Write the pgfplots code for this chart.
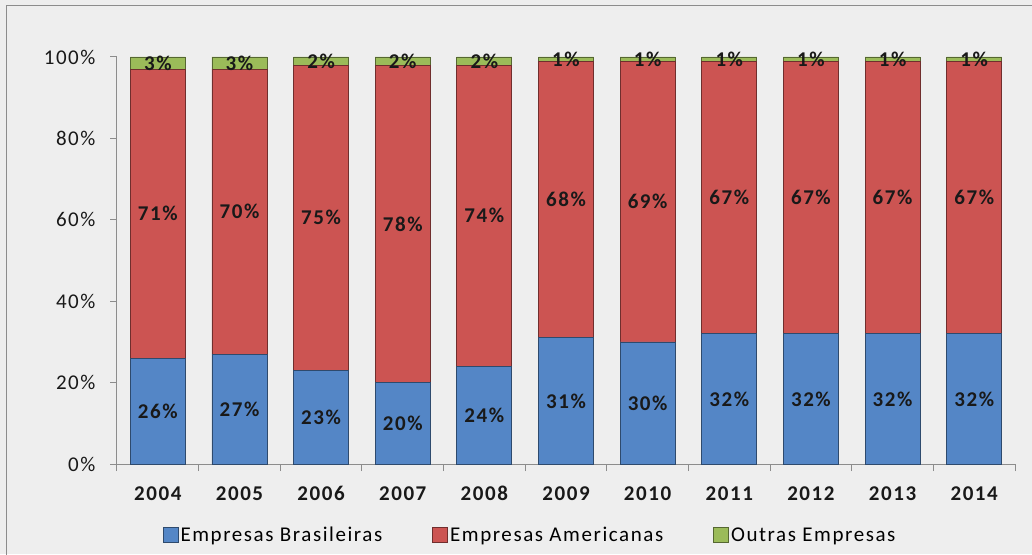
\documentclass[border=0pt]{standalone}
\usepackage{pgfplots}
\pgfplotsset{compat=1.18}
\usepackage{pgfplotstable}
\usepackage{fontspec}
\setmainfont{Carlito}[LetterSpace=7.5]
\definecolor{bgc}{HTML}{EEEEEE}
\definecolor{cblue}{HTML}{5486C6}
\definecolor{cred}{HTML}{CC5452}
\definecolor{cgreen}{HTML}{9BBB59}
\definecolor{axgray}{HTML}{8C8C8C}
\newcommand{\cf}{\fontsize{21}{25}\selectfont}
\pgfplotstableread{
x b a o
0 26 71 3
1 27 70 3
2 23 75 2
3 20 78 2
4 24 74 2
5 31 68 1
6 30 69 1
7 32 67 1
8 32 67 1
9 32 67 1
10 32 67 1
}\datatable
\begin{document}
\begin{tikzpicture}[x=1pt,y=1pt]
\useasboundingbox (-117,-90) rectangle (915,464);
\fill[bgc] (-117,-90) rectangle (915,464);
\draw[axgray, line width=1.5pt] (-110.5,-91) -- (-110.5,458.5) -- (916,458.5);
\begin{axis}[
  at={(0,0)}, anchor=south west, scale only axis,
  width=898pt, height=407pt,
  ybar stacked, bar width=55pt,
  xmin=-0.5, xmax=10.5, ymin=0, ymax=100,
  axis x line*=bottom, axis y line*=left,
  axis line style={draw=axgray, line width=1pt, -},
  tick align=outside, major tick length=7pt,
  tick style={draw=axgray, line width=1pt},
  xtick={-0.5,0.5,...,10.5}, xticklabels={},
  extra x ticks={0,1,...,10},
  extra x tick labels={2004,2005,2006,2007,2008,2009,2010,2011,2012,2013,2014},
  extra x tick style={major tick length=0pt, tick style={draw=none},
    xticklabel style={font=\cf\bfseries, text=black!90, text height=14pt, text depth=0pt, yshift=-19pt}},
  ytick={0,20,...,100},
  yticklabel={\pgfmathprintnumber{\tick}\%},
  yticklabel style={font=\cf, text=black!90, xshift=-11pt},
  /pgf/number format/assume math mode=true,
  point meta=explicit,
  nodes near coords={\pgfmathprintnumber{\pgfplotspointmeta}\%},
  every node near coord/.append style={font=\cf\bfseries, text=black!90, anchor=center},
  legend style={at={(0.46,-0.1745)}, anchor=center, legend columns=-1, draw=none, fill=none, font=\cf,
    /tikz/every even column/.append style={column sep=48pt}},
  legend image code/.code={\fill[#1] (0pt,-7pt) rectangle (15pt,8pt);},
]
\addplot[fill=cblue, draw=cblue!55!black, line width=0.8pt] table[x=x, y=b, meta=b] {\datatable};
\addplot[fill=cred, draw=cred!55!black, line width=0.8pt] table[x=x, y=a, meta=a] {\datatable};
\addplot[fill=cgreen, draw=cgreen!55!black, line width=0.8pt] table[x=x, y=o, meta=o] {\datatable};
\legend{Empresas Brasileiras, Empresas Americanas, Outras Empresas}
\end{axis}
\end{tikzpicture}
\end{document}
